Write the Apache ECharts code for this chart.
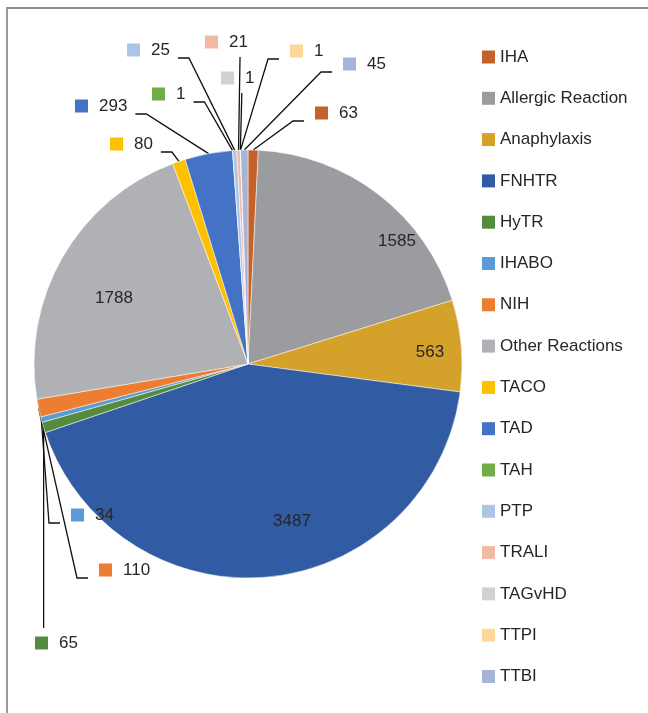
<!DOCTYPE html>
<html>
<head>
<meta charset="utf-8">
<script src="https://cdn.jsdelivr.net/npm/echarts@6/dist/echarts.min.js"></script>
<style>
  html, body { margin: 0; padding: 0; background: #fff; }
  #frame {
    position: absolute; left: 6px; top: 7px;
    width: 700px; height: 760px;
    border-left: 2px solid #999; border-top: 2px solid #8a8a8a;
  }
  #chart { position: absolute; left: 0; top: 0; width: 648px; height: 713px; }
</style>
</head>
<body>
<div id="frame"></div>
<div id="chart"></div>
<script>
  // categories + values, clockwise from 12 o'clock
  var categories = ["IHA", "Allergic Reaction", "Anaphylaxis", "FNHTR", "HyTR", "IHABO", "NIH",
    "Other Reactions", "TACO", "TAD", "TAH", "PTP", "TRALI", "TAGvHD", "TTPI", "TTBI"];
  var counts = [63, 1585, 563, 3487, 65, 34, 110, 1788, 80, 293, 1, 25, 21, 1, 1, 45];
  var colors = ["#c4622a", "#9b9ca0", "#d4a12b", "#315ca4", "#558b3e", "#5b9bd5", "#ed7d31",
    "#b0b1b4", "#ffc000", "#4472c4", "#70ad47", "#abc5e7", "#f4b9a3", "#d0d1d3", "#ffd79b", "#a6b4da"];

  // big slices: label inside, centred here
  var insideAt = {
    "Allergic Reaction": [397, 241],
    "Anaphylaxis": [430, 352],
    "FNHTR": [292, 521],
    "Other Reactions": [114, 298]
  };
  // small slices: label (square left / middle) + which side the leader comes from
  var outsideAt = {
    "IHA": [315, 113, "r"],
    "TTBI": [343, 64, "r"],
    "TTPI": [290, 51, "r"],
    "TAGvHD": [221, 78, "b"],
    "TRALI": [205, 42, "b"],
    "PTP": [127, 50, "l"],
    "TAH": [152, 94, "l"],
    "TAD": [75, 106, "l"],
    "TACO": [110, 144, "l"],
    "IHABO": [71, 515, "r"],
    "NIH": [99, 570, "r"],
    "HyTR": [35, 643, "t"]
  };

  var font = "'Liberation Sans', Arial, sans-serif";
  var myChart = echarts.init(document.getElementById("chart"));

  var pieData = categories.map(function (name, i) {
    var inside = !!insideAt[name];
    return {
      name: name,
      value: counts[i],
      itemStyle: { color: colors[i] },
      label: inside ? {
        position: "inside",
        formatter: "{c}"
      } : {
        position: "outside",
        formatter: "{sq|}{v|{c}}",
        rich: {
          sq: { width: 13, height: 13, backgroundColor: colors[i] },
          v: { fontSize: 17, fontFamily: font, color: "#262626", padding: [0, 0, 0, 11], lineHeight: 20 }
        }
      },
      labelLine: { show: !inside }
    };
  });

  var option = {
    animation: false,
    legend: {
      orient: "vertical",
      left: 477,
      top: 42,
      itemWidth: 13,
      itemHeight: 13,
      itemGap: 21.3,
      icon: "rect",
      itemStyle: { borderWidth: 0 },
      textStyle: { fontSize: 17, fontFamily: font, color: "#262626", lineHeight: 20 },
      data: categories
    },
    series: [
      {
        type: "pie",
        center: [248, 364],
        radius: [0, 214],
        startAngle: 90,
        clockwise: true,
        avoidLabelOverlap: false,
        itemStyle: { borderColor: "#fff", borderWidth: 0.5 },
        label: { fontSize: 17, fontFamily: font, color: "#262626" },
        labelLine: { length: 10, length2: 10, lineStyle: { color: "#111", width: 1.3 } },
        emphasis: { disabled: true },
        labelLayout: function (p) {
          var name = categories[p.dataIndex];
          if (insideAt[name]) {
            return { x: insideAt[name][0], y: insideAt[name][1], align: "center", verticalAlign: "middle" };
          }
          var o = outsideAt[name];
          var x = o[0], y = o[1], w = p.labelRect.width;
          var p0 = p.labelLinePoints ? p.labelLinePoints[0] : [x, y];
          var pts;
          if (o[2] === "r") {
            pts = [p0, [x - 22, y + 8], [x - 11, y + 8]];
          } else if (o[2] === "l") {
            pts = [p0, [x + w + 19, y + 8], [x + w + 8, y + 8]];
          } else if (o[2] === "b") {
            pts = [p0, [p0[0] + 1.5, y + 15]];
          } else {
            pts = [p0, [p0[0], y - 15]];
          }
          return { x: x, y: y, align: "left", verticalAlign: "middle", labelLinePoints: pts };
        },
        data: pieData
      }
    ]
  };
  option && myChart.setOption(option);
</script>
</body>
</html>
